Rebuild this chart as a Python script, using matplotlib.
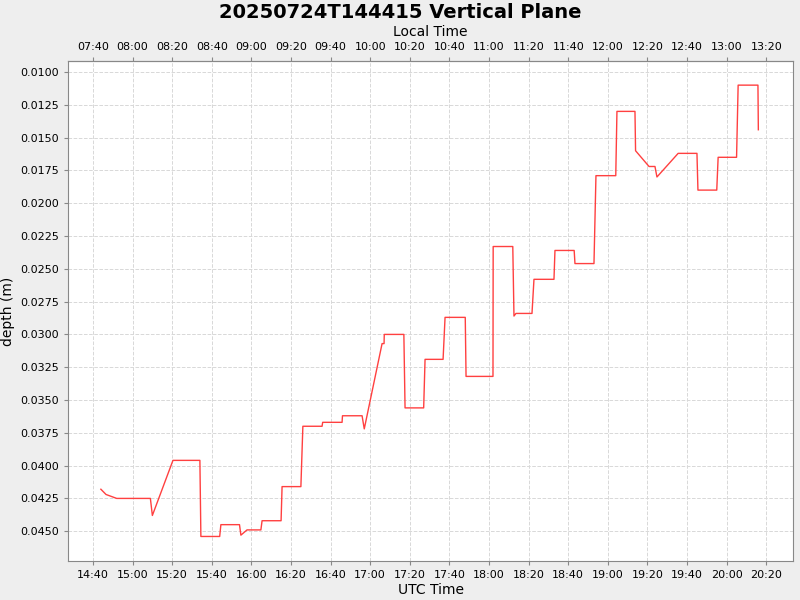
import datetime as dt
import matplotlib
matplotlib.use("Agg")
import matplotlib.pyplot as plt
import matplotlib.dates as mdates

# minutes after 14:40 UTC and depth (m)
minutes = [4, 6.6, 12, 29, 30, 40.4, 54, 54.5, 64, 64.6, 74, 74.7, 77.8, 84.8, 85.4, 95,
           95.5, 105, 106, 115.7, 116, 125.8, 126, 135.9, 137, 146, 147, 147.1, 157, 157.6,
           167, 167.7, 176.8, 177.8, 188, 188.4, 202, 202.1, 212, 212.6, 213.6, 221.7,
           222.7, 232.8, 233.3, 243, 243.4, 253, 254, 264, 264.6, 273.7, 274, 280.8,
           283.8, 284.8, 295.5, 305, 305.5, 315, 315.7, 325, 325.8, 335.8, 336]
depth = [0.0418, 0.0422, 0.0425, 0.0425, 0.0438, 0.0396, 0.0396, 0.0454, 0.0454, 0.0445,
         0.0445, 0.0453, 0.0449, 0.0449, 0.0442, 0.0442, 0.0416, 0.0416, 0.0370, 0.0370,
         0.0367, 0.0367, 0.0362, 0.0362, 0.0372, 0.0307, 0.0307, 0.0300, 0.0300, 0.0356,
         0.0356, 0.0319, 0.0319, 0.0287, 0.0287, 0.0332, 0.0332, 0.0233, 0.0233, 0.0286,
         0.0284, 0.0284, 0.0258, 0.0258, 0.0236, 0.0236, 0.0246, 0.0246, 0.0179, 0.0179,
         0.0130, 0.0130, 0.0160, 0.0172, 0.0172, 0.0180, 0.0162, 0.0162, 0.0190, 0.0190,
         0.0165, 0.0165, 0.0110, 0.0110, 0.0144]

start = dt.datetime(2025, 7, 24, 14, 40)
times = [start + dt.timedelta(minutes=m) for m in minutes]
local_offset = dt.timedelta(hours=-7)

fig = plt.figure(figsize=(8, 6), dpi=100, facecolor="#eeeeee")
ax = fig.add_axes([68/800, 39/600, 725/800, 500/600])
ax.set_facecolor("white")
ax.plot(times, depth, color="#ff4040", lw=1)

ax.set_xlim(start - dt.timedelta(minutes=12.6), start + dt.timedelta(minutes=353.5))
ax.set_ylim(0.04727, 0.00916)
ax.set_yticks([0.01 + 0.0025 * i for i in range(15)])
ax.yaxis.set_major_formatter(matplotlib.ticker.FormatStrFormatter("%.4f"))
ax.xaxis.set_major_locator(mdates.MinuteLocator(byminute=[0, 20, 40]))
ax.xaxis.set_major_formatter(mdates.DateFormatter("%H:%M"))
ax.grid(True, color="#d8d8d8", ls="--", lw=0.7)
ax.tick_params(labelsize=8, color="#888888", length=3)
for s in ax.spines.values():
    s.set_color("#888888")
ax.set_xlabel("UTC Time", fontsize=10, labelpad=2)
ax.set_ylabel("depth (m)", fontsize=10)

top = ax.secondary_xaxis("top")
top.xaxis.set_major_locator(mdates.MinuteLocator(byminute=[0, 20, 40]))
top.xaxis.set_major_formatter(matplotlib.ticker.FuncFormatter(
    lambda v, p: (mdates.num2date(v) + local_offset).strftime("%H:%M")))
top.tick_params(labelsize=8, color="#888888", length=3)
top.spines["top"].set_color("#888888")
top.set_xlabel("Local Time", fontsize=10, labelpad=4)

fig.suptitle("20250724T144415 Vertical Plane", fontsize=14, fontweight="bold", y=0.995)
fig.savefig("out.png", facecolor=fig.get_facecolor())
